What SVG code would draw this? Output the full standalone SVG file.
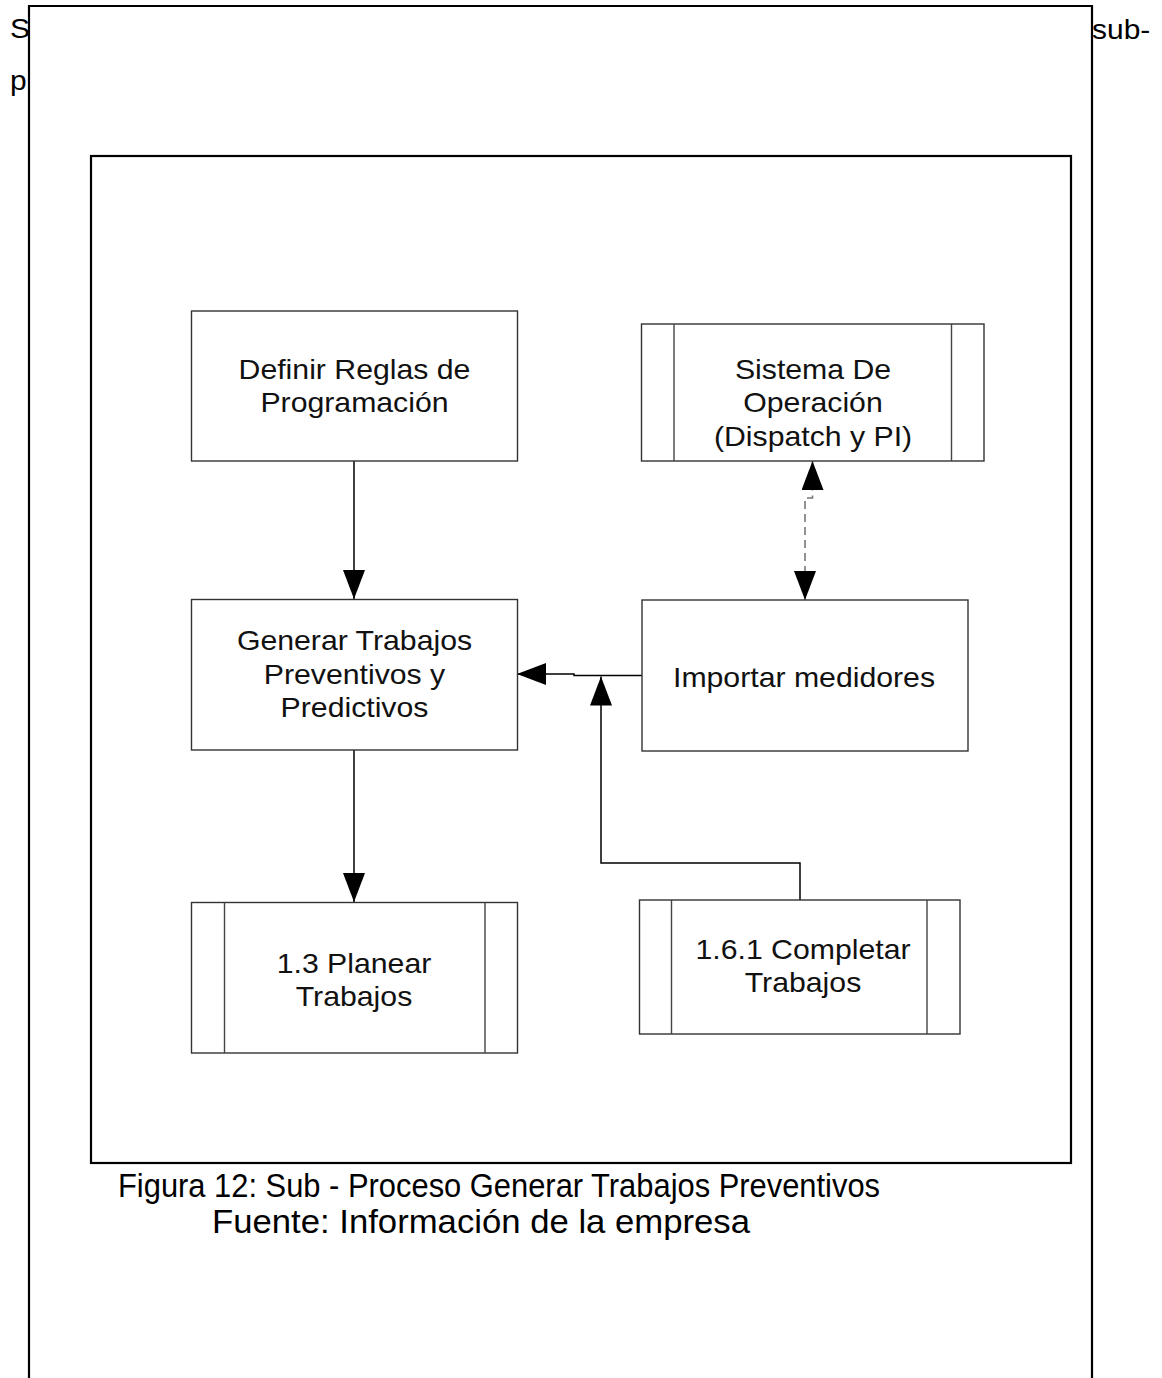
<svg xmlns="http://www.w3.org/2000/svg" width="1162" height="1378" viewBox="0 0 1162 1378">
  <style>
    .body { font-family: "Liberation Sans", Arial, sans-serif; font-size: 28px; fill: #000; }
    .lbl { font-family: "Liberation Sans", Arial, sans-serif; font-size: 28px; fill: #111; text-anchor: middle; }
    .cap { font-family: "Liberation Sans", Arial, sans-serif; font-size: 34px; fill: #000; }
    .box { fill: #fff; stroke: #333; stroke-width: 1.4; }
    .bar { stroke: #444; stroke-width: 1.4; fill: none; }
    .conn { fill: none; stroke: #000; stroke-width: 1.5; }
    .dash { fill: none; stroke: #777; stroke-width: 1.6; stroke-dasharray: 8 5; }
    .frame { fill: none; stroke: #000; stroke-width: 2.2; }
  </style>
  <defs>
    <marker id="arrow" viewBox="0 0 29 22" refX="29" refY="11" markerWidth="29" markerHeight="22" markerUnits="userSpaceOnUse" orient="auto-start-reverse">
      <path d="M0,0 L29,11 L0,22 z" fill="#000"/>
    </marker>
  </defs>

  <rect width="1162" height="1378" fill="#fff"/>

  <!-- running page text behind the figure frame -->
  <text class="body" transform="translate(10,38) scale(1.07,1)">S</text>
  <text class="body" transform="translate(10,90) scale(1.07,1)">p</text>
  <text class="body" transform="translate(1092,39) scale(1.07,1)">sub-</text>

  <!-- outer page frame (open at the bottom) -->
  <path class="frame" d="M29,1378 V6 H1092 V1378"/>

  <!-- figure border -->
  <rect class="frame" x="91" y="156" width="980" height="1007" stroke-width="2.6"/>

  <!-- connectors -->
  <g id="connectors">
    <path class="conn" d="M354,461 V599" marker-end="url(#arrow)"/>
    <path class="conn" d="M354,750 V902" marker-end="url(#arrow)"/>
    <path class="conn" d="M642,675.5 H574 V674 H517" marker-end="url(#arrow)"/>
    <path class="conn" d="M800,900 V863 H601 V676.5" marker-end="url(#arrow)"/>
    <path class="dash" d="M805,600 V498 H812.5 V461" marker-start="url(#arrow)" marker-end="url(#arrow)"/>
  </g>

  <g id="node-definir">
    <rect class="box" x="191.5" y="311" width="326" height="150"/>
    <text class="lbl" transform="translate(354.5,378.5) scale(1.08,1)">Definir Reglas de</text>
    <text class="lbl" transform="translate(354.5,412) scale(1.08,1)">Programación</text>
  </g>

  <g id="node-sistema">
    <rect class="box" x="641.5" y="324" width="342.5" height="137"/>
    <line class="bar" x1="674" y1="324" x2="674" y2="461"/>
    <line class="bar" x1="951.5" y1="324" x2="951.5" y2="461"/>
    <text class="lbl" transform="translate(813,378.5) scale(1.08,1)">Sistema De</text>
    <text class="lbl" transform="translate(813,412) scale(1.08,1)">Operación</text>
    <text class="lbl" transform="translate(813,445.5) scale(1.08,1)">(Dispatch y PI)</text>
  </g>

  <g id="node-generar">
    <rect class="box" x="191.5" y="599.5" width="326" height="150.5"/>
    <text class="lbl" transform="translate(354.5,650) scale(1.08,1)">Generar Trabajos</text>
    <text class="lbl" transform="translate(354.5,683.5) scale(1.08,1)">Preventivos y</text>
    <text class="lbl" transform="translate(354.5,717) scale(1.08,1)">Predictivos</text>
  </g>

  <g id="node-importar">
    <rect class="box" x="642" y="600" width="326" height="151"/>
    <text class="lbl" transform="translate(804,686.5) scale(1.08,1)">Importar medidores</text>
  </g>

  <g id="node-planear">
    <rect class="box" x="191.5" y="902.5" width="326" height="150.5"/>
    <line class="bar" x1="224.5" y1="902.5" x2="224.5" y2="1053"/>
    <line class="bar" x1="485" y1="902.5" x2="485" y2="1053"/>
    <text class="lbl" transform="translate(354,972.5) scale(1.08,1)">1.3 Planear</text>
    <text class="lbl" transform="translate(354,1006) scale(1.08,1)">Trabajos</text>
  </g>

  <g id="node-completar">
    <rect class="box" x="639.5" y="900" width="320.5" height="134"/>
    <line class="bar" x1="671.5" y1="900" x2="671.5" y2="1034"/>
    <line class="bar" x1="927" y1="900" x2="927" y2="1034"/>
    <text class="lbl" transform="translate(803,958.5) scale(1.08,1)">1.6.1 Completar</text>
    <text class="lbl" transform="translate(803,992) scale(1.08,1)">Trabajos</text>
  </g>

  <!-- figure caption -->
  <text class="cap" x="118" y="1197" textLength="762" lengthAdjust="spacingAndGlyphs">Figura 12: Sub - Proceso Generar Trabajos Preventivos</text>
  <text class="cap" x="212" y="1233" textLength="538" lengthAdjust="spacingAndGlyphs">Fuente: Información de la empresa</text>
</svg>
